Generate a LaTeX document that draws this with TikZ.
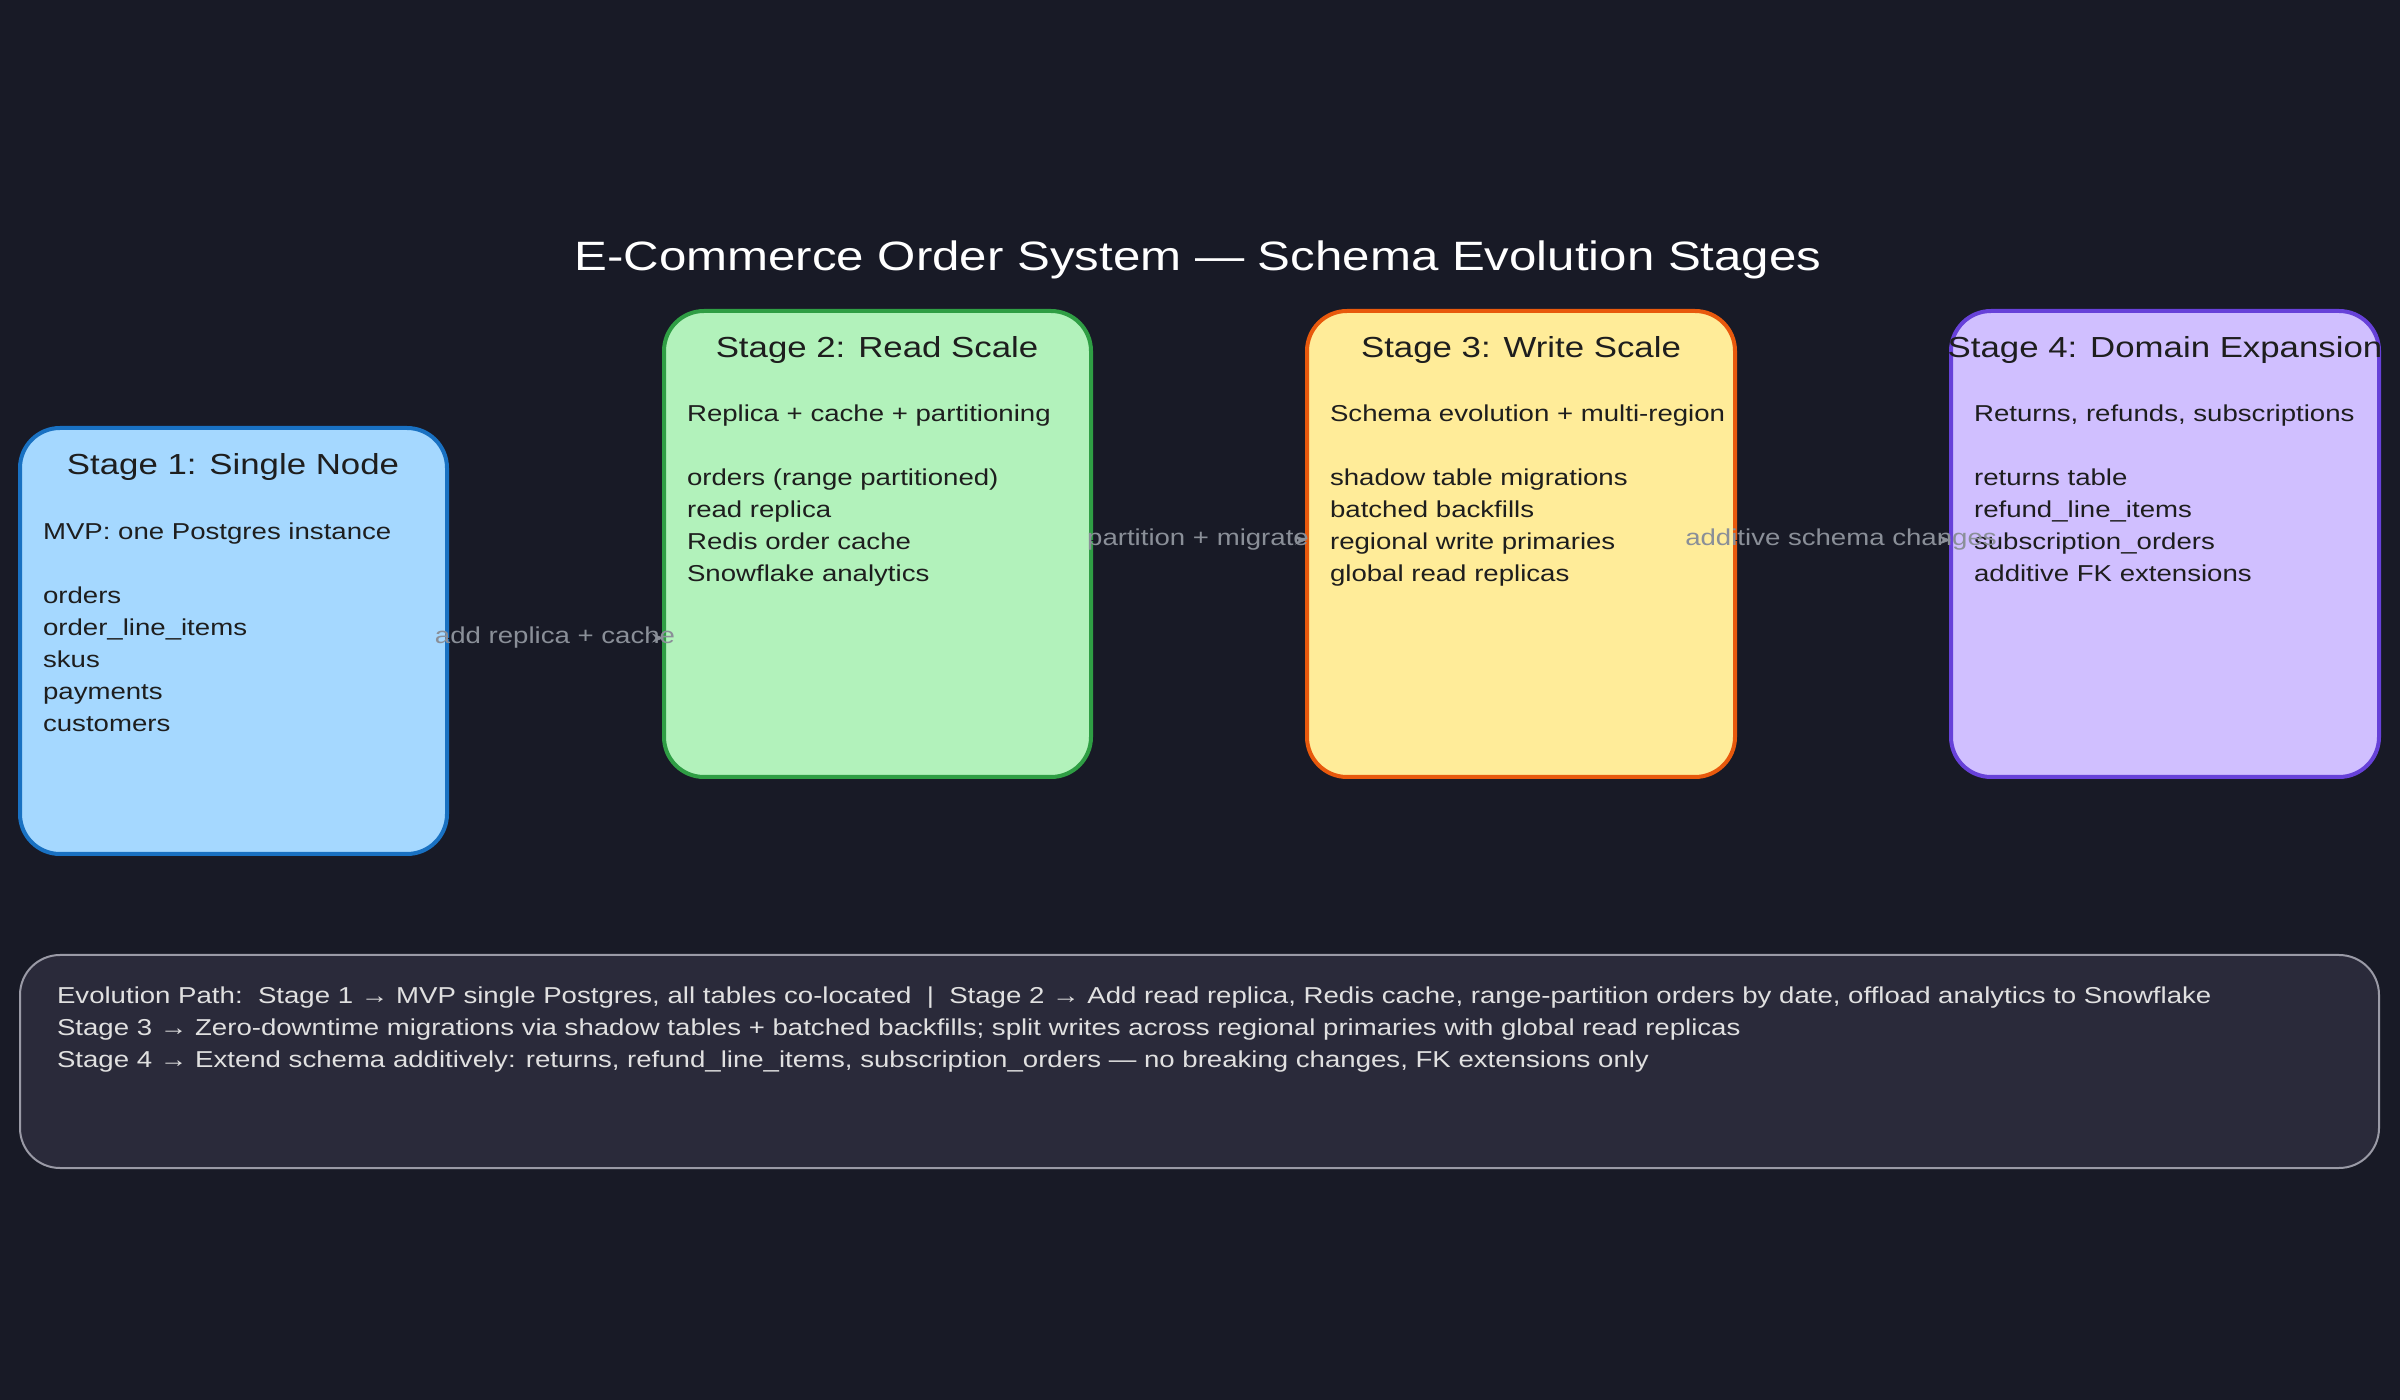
\documentclass[tikz,border=0pt]{standalone}
\usepackage{fontspec}
\setmainfont{Liberation Sans}[FakeStretch=1.2]
\usetikzlibrary{positioning,arrows.meta}

\definecolor{bgc}{HTML}{181A26}
\definecolor{inkc}{HTML}{1E1E1E}
\definecolor{labc}{HTML}{8A8F98}
\definecolor{sAf}{HTML}{A5D8FF}\definecolor{sAd}{HTML}{1971C2}
\definecolor{sBf}{HTML}{B2F2BB}\definecolor{sBd}{HTML}{2F9E44}
\definecolor{sCf}{HTML}{FFEC99}\definecolor{sCd}{HTML}{E8590C}
\definecolor{sDf}{HTML}{D0BFFF}\definecolor{sDd}{HTML}{6741D9}
\definecolor{notef}{HTML}{2A2A3A}\definecolor{noted}{HTML}{9A9AA6}

\begin{document}
\begin{tikzpicture}[x=0.5pt, y=-0.5pt,
  stage/.style={draw, line width=2pt, rounded corners=20pt},
  head/.style={anchor=north, font=\fontsize{14.5}{18}\selectfont, text=inkc},
  body/.style={anchor=north west, align=left, font=\fontsize{11.5}{16}\selectfont, text=inkc},
  lab/.style={font=\fontsize{11.5}{14}\selectfont, text=labc},
  flow/.style={draw=bgc, -{Stealth[color=labc, length=6pt]}}]
  \fill[bgc] (0,0) rectangle (2400,1400);

  \node[font=\fontsize{20.5}{25}\selectfont, text=white] (title) at (1198,260) {E-Commerce Order System — Schema Evolution Stages};

  % stages
  \draw[stage, fill=sAf, draw=sAd] (20,428) rectangle (447,854);
  \coordinate (s1e) at (447,638);
  \node[head] (h1) at (233,446) {Stage 1: Single Node};
  \node[body] (b1) at (36,516) {MVP: one Postgres instance\\[16pt]orders\\order\_line\_items\\skus\\payments\\customers};

  \draw[stage, fill=sBf, draw=sBd] (664,311) rectangle (1091,777);
  \coordinate (s2w) at (664,638);
  \coordinate (s2e) at (1091,540);
  \node[head] (h2) at (877,329) {Stage 2: Read Scale};
  \node[body] (b2) at (680,398) {Replica + cache + partitioning\\[16pt]orders (range partitioned)\\read replica\\Redis order cache\\Snowflake analytics};

  \draw[stage, fill=sCf, draw=sCd] (1307,311) rectangle (1735,777);
  \coordinate (s3w) at (1307,540);
  \coordinate (s3e) at (1735,540);
  \node[head] (h3) at (1521,329) {Stage 3: Write Scale};
  \node[body] (b3) at (1323,398) {Schema evolution + multi-region\\[16pt]shadow table migrations\\batched backfills\\regional write primaries\\global read replicas};

  \draw[stage, fill=sDf, draw=sDd] (1951,311) rectangle (2379,777);
  \coordinate (s4w) at (1951,540);
  \node[head] (h4) at (2165,329) {Stage 4: Domain Expansion};
  \node[body] (b4) at (1967,398) {Returns, refunds, subscriptions\\[16pt]returns table\\refund\_line\_items\\subscription\_orders\\additive FK extensions};

  % transitions
  \draw[flow] (s1e) -- (s2w);
  \draw[flow] (s2e) -- (s3w);
  \draw[flow] (s3e) -- (s4w);
  \node[lab] (l1) at (555,638) {add replica + cache};
  \node[lab] (l2) at (1198,540) {partition + migrate};
  \node[lab] (l3) at (1841,540) {additive schema changes};

  % summary
  \draw[stage, line width=1pt, fill=notef, draw=noted] (20,955) rectangle (2379,1168);
  \node[body, text=white!88!black, font=\fontsize{11.5}{16}\selectfont] (path) at (50,980) {Evolution Path:\ \ Stage 1 → MVP single Postgres, all tables co-located\ \ |\ \ Stage 2 → Add read replica, Redis cache, range-partition orders by date, offload analytics to Snowflake\\Stage 3 → Zero-downtime migrations via shadow tables + batched backfills; split writes across regional primaries with global read replicas\\Stage 4 → Extend schema additively: returns, refund\_line\_items, subscription\_orders — no breaking changes, FK extensions only};
\end{tikzpicture}
\end{document}
